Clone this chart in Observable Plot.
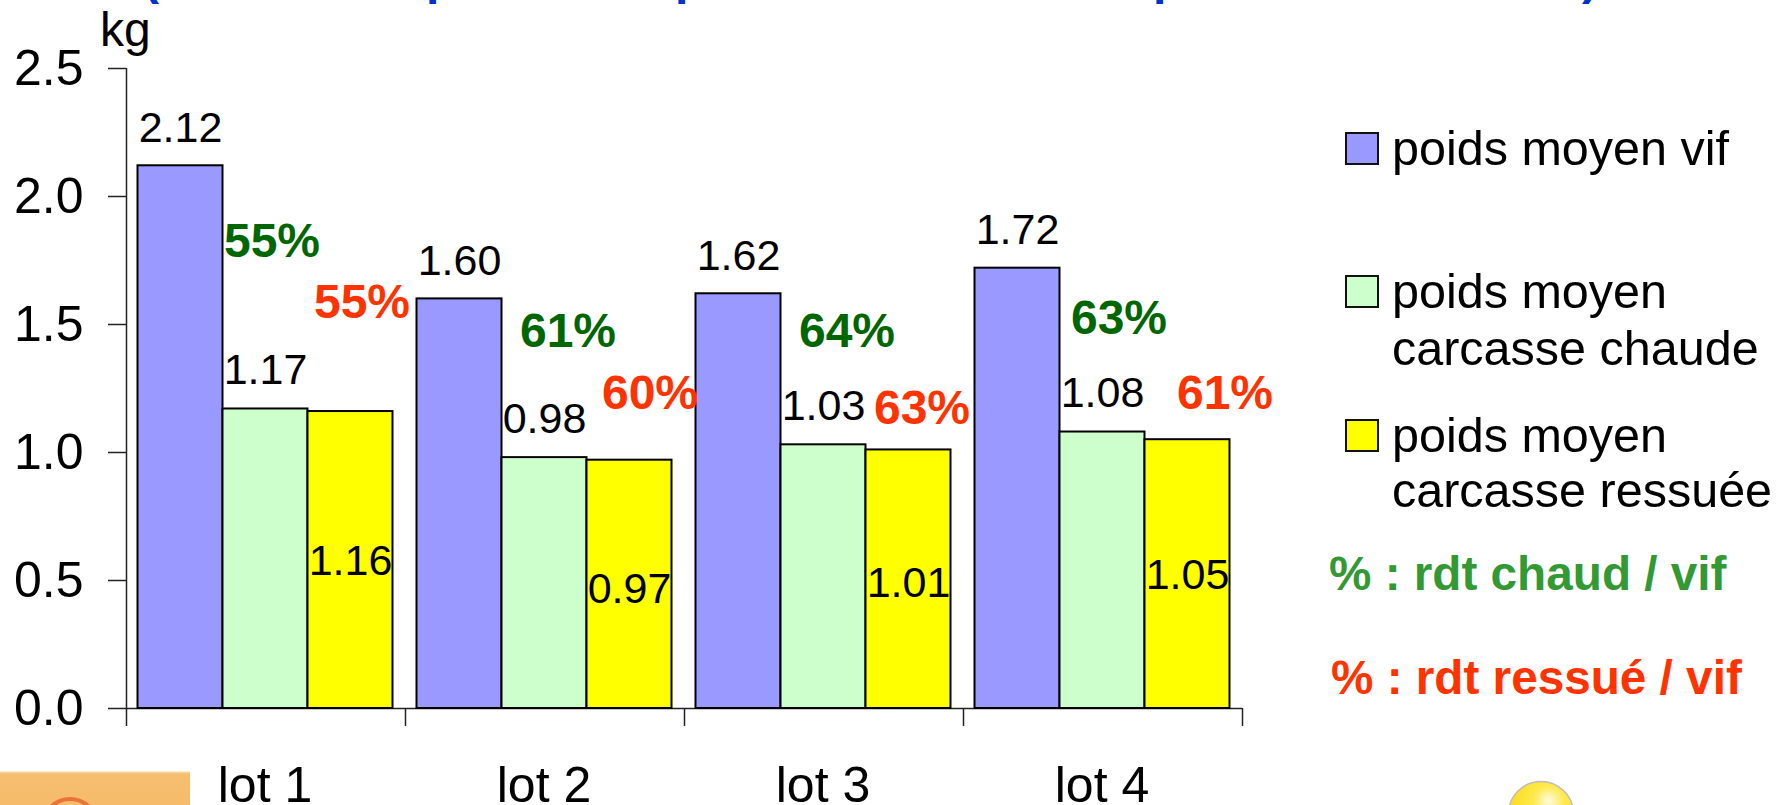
<!DOCTYPE html>
<html lang="fr">
<head>
<meta charset="utf-8">
<script src="https://cdn.jsdelivr.net/npm/d3@7"></script>
<script src="https://cdn.jsdelivr.net/npm/@observablehq/plot@0.6"></script>
<style>
html,body{margin:0;padding:0;background:#fff;width:1785px;height:805px;overflow:hidden;font-family:"Liberation Sans",Arial,sans-serif}
#chart{position:absolute;left:0;top:0}
.abs{position:absolute;white-space:nowrap;line-height:1;font-size:48px}
.sw{position:absolute;width:30px;height:29px;border:2px solid #111;box-sizing:content-box}
svg.deco{position:absolute;left:0;top:0;pointer-events:none}
</style>
</head>
<body>
<div id="chart"></div>
<script>
// Data
const lots = ["lot 1", "lot 2", "lot 3", "lot 4"];
const seriesNames = ["vif", "chaude", "ressuee"];
const poidsVif = [2.12, 1.60, 1.62, 1.72];
const poidsChaude = [1.17, 0.98, 1.03, 1.08];
const poidsRessuee = [1.16, 0.97, 1.01, 1.05];
const rdtChaud = ["55%", "61%", "64%", "63%"];
const rdtRessue = ["55%", "60%", "63%", "61%"];
const yTicks = [0, 0.5, 1, 1.5, 2, 2.5];
const legendLabels = [["poids moyen vif"], ["poids moyen", "carcasse chaude"], ["poids moyen", "carcasse ressuée"]];
const noteLabels = ["% : rdt chaud / vif", "% : rdt ressué / vif"];

// Style / label layout tables
const colors = {vif: "#9999FF", chaude: "#CCFFCC", ressuee: "#FFFF00"};
const dyRessuee = [150, 129, 133, 136];
const greenOffset = [[6.5, -167.5], [23.5, -126], [23.5, -113], [16.5, -113.5]];
const redOffset = [[11.5, -109], [20.5, -66.7], [13.5, -41.4], [37.5, -46.2]];

const values = {vif: poidsVif, chaude: poidsChaude, ressuee: poidsRessuee};
const bars = lots.flatMap((lot, i) => seriesNames.map(s => ({lot, series: s, value: values[s][i]})));
const fmt = d => d.value.toFixed(2);

const labelMarks = lots.flatMap((lot, i) => [
  Plot.text([{lot, series: "vif", value: poidsVif[i]}], {fx: "lot", x: "series", y: "value", text: fmt, dy: -38, fontSize: 43, fill: "#000"}),
  Plot.text([{lot, series: "chaude", value: poidsChaude[i]}], {fx: "lot", x: "series", y: "value", text: fmt, dy: -38.5, fontSize: 43, fill: "#000"}),
  Plot.text([{lot, series: "ressuee", value: poidsRessuee[i]}], {fx: "lot", x: "series", y: "value", text: fmt, dy: dyRessuee[i], fontSize: 43, fill: "#000"}),
  Plot.text([{lot, series: "chaude", value: poidsChaude[i], t: rdtChaud[i]}], {fx: "lot", x: "series", y: "value", text: "t", dx: greenOffset[i][0], dy: greenOffset[i][1], fontSize: 48, fontWeight: "bold", fill: "#006600"}),
  Plot.text([{lot, series: "ressuee", value: poidsRessuee[i], t: rdtRessue[i]}], {fx: "lot", x: "series", y: "value", text: "t", dx: redOffset[i][0], dy: redOffset[i][1], fontSize: 48, fontWeight: "bold", fill: "#FF3300"})
]);

const axisColor = "#222";
const plot = Plot.plot({
  width: 1785,
  height: 805,
  marginLeft: 126,
  marginRight: 543,
  marginTop: 68,
  marginBottom: 97,
  style: {fontFamily: '"Liberation Sans",Arial,sans-serif', background: "transparent", overflow: "visible"},
  fx: {domain: lots, padding: 0, round: false, label: null, axis: null},
  x: {domain: seriesNames, padding: 0, round: false, range: [137.5, 392.5], axis: null, label: null},
  y: {domain: [0, 2.5], label: null, axis: null},
  marks: [
    Plot.axisY({ticks: yTicks, tickFormat: d => d.toFixed(1), tickSize: 18, tickPadding: 25, fontSize: 50, stroke: axisColor, strokeWidth: 1.5, color: "#000", label: null}),
    Plot.ruleY([0], {stroke: axisColor, strokeWidth: 1.5}),
    // y axis line and the x ticks sit on the band edges
    Plot.ruleX(["lot 1"], {fx: d => d, x: () => "vif", y1: () => 0, y2: () => 2.5, dx: -54, stroke: axisColor, strokeWidth: 1.5}),
    Plot.ruleX(lots, {fx: d => d, x: () => "vif", y1: () => 0, y2: () => -0.0703, dx: -54, stroke: axisColor, strokeWidth: 1.5}),
    Plot.ruleX(["lot 4"], {fx: d => d, x: () => "ressuee", y1: () => 0, y2: () => -0.0703, dx: 55, stroke: axisColor, strokeWidth: 1.5}),
    Plot.barY(bars, {fx: "lot", x: "series", y: "value", fill: d => colors[d.series], stroke: "#000", strokeWidth: 2}),
    Plot.axisFx({anchor: "bottom", tickSize: 0, tickPadding: 58, dx: -1, fontSize: 50, color: "#000", label: null}),
    ...labelMarks
  ]
});
document.getElementById("chart").append(plot);

// Annotations around the chart
function addText(txt, left, baseline, style = {}) {
  const el = document.createElement("div");
  el.className = "abs";
  el.textContent = txt;
  const size = style.fontSize ? parseFloat(style.fontSize) : 48;
  el.style.left = left + "px";
  el.style.top = (baseline - size * 0.905 - (size - size * 1.149) / 2) + "px";
  Object.assign(el.style, style);
  document.body.append(el);
}
function addSwatch(color, left, top) {
  const el = document.createElement("div");
  el.className = "sw";
  el.style.left = left + "px";
  el.style.top = top + "px";
  el.style.background = color;
  document.body.append(el);
}
addText("kg", 100, 46);
[[seriesNames[0], 132, [164]], [seriesNames[1], 275, [307, 364]], [seriesNames[2], 419, [451, 506]]].forEach(([s, top, bases], i) => {
  addSwatch(colors[s], 1345, top);
  legendLabels[i].forEach((line, j) => addText(line, 1392, bases[j], {fontSize: "48.5px"}));
});
addText(noteLabels[0], 1329, 590, {fontWeight: "bold", color: "#339933", fontSize: "47.7px"});
addText(noteLabels[1], 1331, 694, {fontWeight: "bold", color: "#FF3300", fontSize: "47.7px"});
// Cropped title: only the descenders remain on the top edge
[["(", 143], ["p", 426], ["p", 675], ["p", 1153], [")", 1582]].forEach(([g, x]) =>
  addText(g, x, -6, {fontWeight: "bold", color: "#0033CC"}));

// Cropped pictures along the bottom edge
document.body.insertAdjacentHTML("beforeend", `
<svg class="deco" width="1785" height="805" viewBox="0 0 1785 805">
  <defs>
    <radialGradient id="bulb" cx="0.62" cy="0.3" r="0.7">
      <stop offset="0" stop-color="#FFFBE0"/>
      <stop offset="0.35" stop-color="#FFE94A"/>
      <stop offset="1" stop-color="#FCD813"/>
    </radialGradient>
    <linearGradient id="orange" x1="0" y1="0" x2="0" y2="1">
      <stop offset="0" stop-color="#F8DDA6"/>
      <stop offset="0.08" stop-color="#F6BE70"/>
      <stop offset="1" stop-color="#F6BC6B"/>
    </linearGradient>
  </defs>
  <rect x="0" y="771.5" width="190" height="34" fill="url(#orange)"/>
  <circle cx="70" cy="826" r="27" fill="none" stroke="#E9743A" stroke-width="4"/>
  <circle cx="1541" cy="814" r="32.5" fill="url(#bulb)" stroke="#BDBDBD" stroke-width="1.5"/>
</svg>`);
</script>
</body>
</html>
